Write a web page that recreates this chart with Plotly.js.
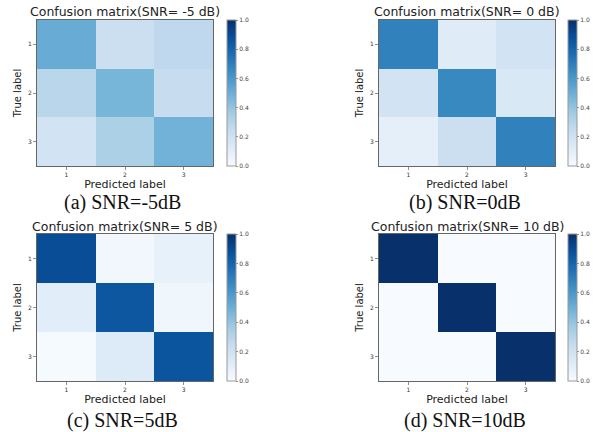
<!DOCTYPE html>
<html>
<head>
<meta charset="utf-8">
<script src="https://cdn.plot.ly/plotly-3.0.1.min.js"></script>
<style>html,body{margin:0;padding:0;background:#fff;}#chart{width:603px;height:432px;}</style>
</head>
<body>
<div id="chart"></div>
<script>
// ---- data ----
const categories = [1, 2, 3];
const tickLabels = ['1', '2', '3'];
const cbTickVals = [0, 0.2, 0.4, 0.6, 0.8, 1.0];
const cbTickText = ['0.0', '0.2', '0.4', '0.6', '0.8', '1.0'];
const cmSnrMinus5 = [[0.51, 0.22, 0.27], [0.29, 0.47, 0.24], [0.19, 0.33, 0.48]];
const cmSnr0 = [[0.69, 0.12, 0.19], [0.19, 0.66, 0.15], [0.09, 0.22, 0.69]];
const cmSnr5 = [[0.89, 0.03, 0.08], [0.11, 0.85, 0.04], [0.01, 0.13, 0.86]];
const cmSnr10 = [[1.0, 0.0, 0.0], [0.0, 1.0, 0.0], [0.0, 0.0, 1.0]];
const panelTitles = ['Confusion matrix(SNR= -5 dB)', 'Confusion matrix(SNR= 0 dB)', 'Confusion matrix(SNR= 5 dB)', 'Confusion matrix(SNR= 10 dB)'];
const captions = ['(a) SNR=-5dB', '(b) SNR=0dB', '(c) SNR=5dB', '(d) SNR=10dB'];
const xTitle = 'Predicted label';
const yTitle = 'True label';

// ---- layout helpers (pixels) ----
const W = 603, H = 432;
const blues = [[0, '#f7fbff'], [0.125, '#deebf7'], [0.25, '#c6dbef'], [0.375, '#9ecae1'], [0.5, '#6baed6'], [0.625, '#4292c6'], [0.75, '#2171b5'], [0.875, '#08519c'], [1, '#08306b']];
const panels = [
  {z: cmSnrMinus5, x0: 37, x1: 213, y0: 20, y1: 166, cbx: 227, titleY: 11.5, capY: 202},
  {z: cmSnr0, x0: 379, x1: 555, y0: 20, y1: 166, cbx: 568, titleY: 11.5, capY: 202},
  {z: cmSnr5, x0: 37, x1: 213, y0: 234, y1: 381, cbx: 227, titleY: 226, capY: 420},
  {z: cmSnr10, x0: 379, x1: 555, y0: 234, y1: 381, cbx: 568, titleY: 226, capY: 420}
];
const px = v => v / W;
const py = v => 1 - v / H;

const data = [];
const layout = {
  width: W, height: H,
  margin: {l: 0, r: 0, t: 0, b: 0},
  paper_bgcolor: '#fff', plot_bgcolor: '#fff',
  showlegend: false,
  font: {family: 'DejaVu Sans, sans-serif', color: '#222'},
  annotations: []
};

panels.forEach((p, i) => {
  const n = i === 0 ? '' : String(i + 1);
  data.push({
    type: 'heatmap',
    x: categories, y: categories, z: p.z,
    xaxis: 'x' + n, yaxis: 'y' + n,
    zmin: 0, zmax: 1,
    colorscale: blues,
    xgap: 0, ygap: 0,
    hoverinfo: 'z',
    colorbar: {
      x: px(p.cbx), xanchor: 'left', xref: 'paper',
      y: py((p.y0 + p.y1) / 2), yanchor: 'middle', yref: 'paper',
      len: p.y1 - p.y0, lenmode: 'pixels',
      thickness: 9, thicknessmode: 'pixels',
      xpad: 0, ypad: 0,
      outlinewidth: 1, outlinecolor: '#999',
      tickvals: cbTickVals, ticktext: cbTickText,
      ticks: 'outside', ticklen: 2, tickwidth: 0.6, tickcolor: '#444',
      tickfont: {size: 6, color: '#444', family: 'DejaVu Sans, sans-serif'}
    }
  });
  layout['xaxis' + n] = {
    domain: [px(p.x0), px(p.x1)], anchor: 'y' + n,
    range: [0.5, 3.5], tickvals: categories, ticktext: tickLabels,
    ticks: 'outside', ticklen: 3, tickwidth: 0.6, tickcolor: '#444',
    tickfont: {size: 6, color: '#333'},
    showgrid: false, zeroline: false,
    showline: true, mirror: true, linecolor: '#666', linewidth: 1,
    title: {text: xTitle, font: {size: 11, color: '#222'}, standoff: 2}
  };
  layout['yaxis' + n] = {
    domain: [py(p.y1), py(p.y0)], anchor: 'x' + n,
    range: [3.5, 0.5], tickvals: categories, ticktext: tickLabels,
    ticks: 'outside', ticklen: 3, tickwidth: 0.6, tickcolor: '#444',
    tickfont: {size: 6, color: '#333'},
    showgrid: false, zeroline: false,
    showline: true, mirror: true, linecolor: '#666', linewidth: 1,
    title: {text: yTitle, font: {size: 10, color: '#222'}, standoff: 4}
  };
  layout.annotations.push({
    text: panelTitles[i], xref: 'paper', yref: 'paper',
    x: px((p.x0 + p.x1) / 2), y: py(p.titleY), xanchor: 'center', yanchor: 'middle',
    showarrow: false, font: {size: 12.5, color: '#222'}
  });
  layout.annotations.push({
    text: captions[i], xref: 'paper', yref: 'paper',
    x: px((p.x0 + p.x1) / 2 - 2), y: py(p.capY), xanchor: 'center', yanchor: 'middle',
    showarrow: false, font: {size: 20, color: '#111', family: 'Liberation Serif, Times New Roman, serif'}
  });
});

Plotly.newPlot('chart', data, layout, {displayModeBar: false, staticPlot: true});
</script>
</body>
</html>
